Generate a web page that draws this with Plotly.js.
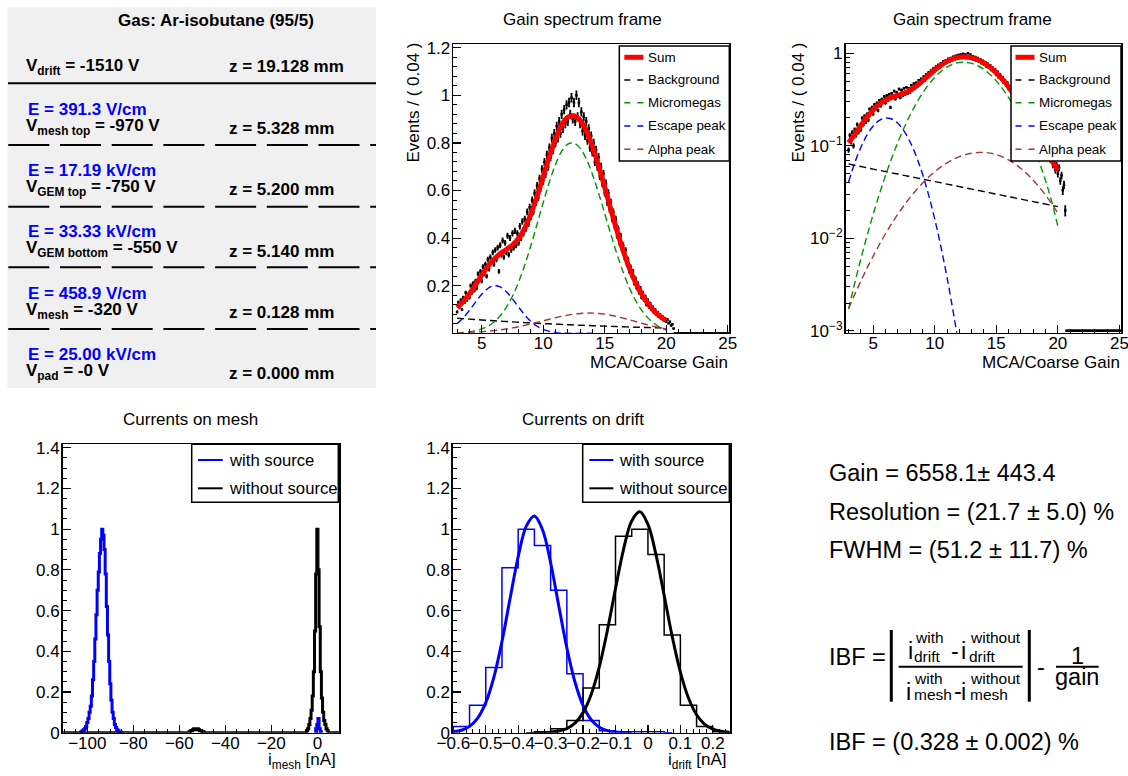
<!DOCTYPE html>
<html><head><meta charset="utf-8">
<script src="https://cdn.plot.ly/plotly-3.0.1.min.js"></script>
<style>html,body{margin:0;padding:0;background:#fff;} #chart{width:1128px;height:776px;}</style>
</head><body><div id="chart"></div>
<script>
// ---------------- DATA ----------------
// Gain spectrum (normalised events per bin), bins start at 3.0 with width 0.1
const specBinStart = 3.0, specBinWidth = 0.1;
const specY = [
0.09,0.13,0.11,0.14,0.10,0.15,0.13,0.17,0.14,0.16,
0.15,0.20,0.17,0.21,0.18,0.22,0.19,0.25,0.23,0.26,
0.22,0.28,0.25,0.29,0.24,0.31,0.27,0.32,0.30,0.34,
0.29,0.35,0.31,0.36,0.26,0.37,0.33,0.39,0.32,0.38,
0.34,0.41,0.33,0.40,0.35,0.42,0.36,0.43,0.37,0.42,
0.38,0.45,0.40,0.47,0.42,0.48,0.44,0.51,0.46,0.53,
0.49,0.56,0.51,0.59,0.55,0.62,0.57,0.65,0.61,0.69,
0.64,0.72,0.67,0.75,0.70,0.78,0.74,0.82,0.77,0.84,
0.80,0.87,0.82,0.89,0.84,0.92,0.86,0.94,0.88,0.96,
0.89,0.97,0.92,0.99,0.90,0.97,0.89,1.00,0.91,0.97,
0.88,0.93,0.85,0.91,0.83,0.89,0.81,0.86,0.78,0.83,
0.76,0.80,0.72,0.77,0.70,0.74,0.66,0.70,0.63,0.67,
0.59,0.63,0.55,0.59,0.52,0.55,0.48,0.51,0.45,0.48,
0.41,0.44,0.38,0.41,0.35,0.37,0.32,0.35,0.29,0.31,
0.26,0.28,0.24,0.26,0.21,0.23,0.19,0.21,0.17,0.19,
0.15,0.17,0.14,0.155,0.12,0.14,0.11,0.125,0.10,0.11,
0.088,0.10,0.078,0.088,0.07,0.078,0.062,0.07,0.055,0.062,
0.05,0.058,0.042,0.048,0.033,0.038,0.02,
0,0,0,0,0,0,0,0,0,0,0,0,0,0,0,0,0,0,0,0,0,0,0,0,0,
0,0,0,0,0,0,0,0,0,0,0,0,0,0,0,0,0,0,0,0
];
// Fit components, sampled every 0.5
const fitX = [3,3.5,4,4.5,5,5.5,6,6.5,7,7.5,8,8.5,9,9.5,10,10.5,11,11.5,12,12.5,13,13.5,14,14.5,15,15.5,16,16.5,17,17.5,18,18.5,19,19.5,20];
const sumY = [0.108,0.133,0.166,0.204,0.244,0.281,0.311,0.334,0.352,0.371,0.399,0.442,0.502,0.576,0.659,0.743,0.817,0.875,0.908,0.914,0.895,0.851,0.785,0.704,0.614,0.521,0.431,0.348,0.275,0.214,0.165,0.126,0.095,0.071,0.054];
const backgroundY = [0.0635,0.0616,0.0597,0.0578,0.0560,0.0543,0.0527,0.0510,0.0495,0.0479,0.0465,0.0450,0.0437,0.0423,0.0410,0.0398,0.0385,0.0374,0.0362,0.0351,0.0340,0.0330,0.0320,0.0310,0.0300,0.0291,0.0282,0.0274,0.0265,0.0257,0.0249,0.0242,0.0234,0.0227,0.0220];
const micromegasY = [0.00172,0.00328,0.00601,0.01064,0.0182,0.0300,0.0478,0.0734,0.1089,0.1558,0.2152,0.2870,0.3692,0.4585,0.5495,0.6356,0.7095,0.7645,0.7949,0.7988,0.7780,0.7331,0.6684,0.5897,0.5033,0.4156,0.3321,0.2567,0.1920,0.1390,0.0972,0.0659,0.0420,0.0250,0.0135];
const alphaY = [0.00174,0.00248,0.00346,0.00476,0.00643,0.00855,0.0112,0.0144,0.0182,0.0226,0.0277,0.0333,0.0394,0.0459,0.0525,0.0591,0.0655,0.0713,0.0763,0.0803,0.0832,0.0847,0.0849,0.0834,0.0803,0.0759,0.0703,0.0638,0.0568,0.0496,0.0424,0.0356,0.0293,0.0237,0.0187];
const escapeX = [3,3.5,4,4.5,5,5.5,6,6.5,7,7.5,8,8.5,9,9.5,10,10.5,11,11.5,12,12.5,13,13.5,14];
const escapeY = [0.0407,0.0653,0.0964,0.1309,0.1637,0.1884,0.1997,0.1948,0.1749,0.1446,0.1100,0.0771,0.0497,0.0295,0.0161,0.00811,0.00376,0.00160,0.000628,0.000227,0.0000755,0.000023,0.0000065];

// Currents on mesh (normalised), bin centres [nA]
const meshWithX = [-103,-102.5,-102,-101.5,-101,-100.5,-100,-99.5,-99,-98.5,-98,-97.5,-97,-96.5,-96,-95.5,-95,-94.5,-94,-93.5,-93,-92.5,-92,-91.5,-91,-90.5,-90,-89.5,-89,-88.5,-88,-87.5,-87,-86.5,-86,-85.5,-85,null,-1,-0.5,0,0.5,1,1.5,2];
const meshWithY = [0,0.005,0.01,0.015,0.02,0.03,0.05,0.07,0.10,0.13,0.18,0.26,0.35,0.46,0.58,0.70,0.79,0.88,0.95,1.00,0.97,0.90,0.78,0.62,0.48,0.35,0.24,0.16,0.10,0.07,0.04,0.025,0.015,0.01,0.005,0.003,0,null,0,0.02,0.04,0.07,0.02,0.005,0];
const meshWithoutX = [-110.5,-56,-55.5,-55,-54.5,-54,-53.5,-53,-52.5,-52,-51.5,-51,-50.5,-50,-49.5,-49,-5,-4.5,-4,-3.5,-3,-2.5,-2,-1.5,-1,-0.5,0,0.5,1,1.5,2,2.5,3,3.5,4,4.5,5,9.5];
const meshWithoutY = [0,0,0.005,0.01,0.01,0.015,0.02,0.015,0.02,0.02,0.015,0.01,0.01,0.005,0.005,0,0,0.01,0.02,0.04,0.07,0.11,0.18,0.30,0.50,0.78,1.00,0.80,0.52,0.30,0.17,0.10,0.06,0.04,0.02,0.01,0,0];

// Currents on drift (normalised), bin centres [nA]
const driftWithX = [-0.625,-0.575,-0.525,-0.475,-0.425,-0.375,-0.325,-0.275,-0.225,-0.175,-0.125,-0.075,-0.025,0.025,0.075];
const driftWithY = [0,0.03,0.135,0.32,0.81,1.00,0.92,0.70,0.29,0.06,0.01,0.005,0.005,0.005,0];
const driftWithoutX = [-0.375,-0.325,-0.275,-0.225,-0.175,-0.125,-0.075,-0.025,0.025,0.075,0.125,0.175,0.225,0.275];
const driftWithoutY = [0,0.005,0.02,0.06,0.22,0.53,0.965,1.00,0.875,0.48,0.135,0.03,0.005,0];
const driftWithFitX = [-0.6,-0.575,-0.55,-0.525,-0.5,-0.475,-0.45,-0.425,-0.4,-0.375,-0.35,-0.325,-0.3,-0.275,-0.25,-0.225,-0.2,-0.175,-0.15,-0.125,-0.1,-0.075,-0.05];
const driftWithFitY = [0.0042,0.0121,0.0311,0.0719,0.148,0.2725,0.448,0.659,0.865,1.015,1.065,0.997,0.835,0.624,0.417,0.249,0.133,0.0633,0.0270,0.0103,0.0035,0.0011,0.0003];
const driftWithoutFitX = [-0.35,-0.325,-0.3,-0.275,-0.25,-0.225,-0.2,-0.175,-0.15,-0.125,-0.1,-0.075,-0.05,-0.025,0,0.025,0.05,0.075,0.1,0.125,0.15,0.175,0.2,0.225,0.25];
const driftWithoutFitY = [0.00025,0.0009,0.0028,0.0079,0.0202,0.0469,0.0986,0.1876,0.323,0.5026,0.708,0.902,1.040,1.085,1.0235,0.8736,0.6747,0.4713,0.298,0.1705,0.0881,0.0413,0.0175,0.0067,0.0023];

// Tick labels for the log axis
const logTickVals = [0.001,0.01,0.1,1];
const logTickText = ['10<sup>−3</sup>','10<sup>−2</sup>','10<sup>−1</sup>','1'];

// Text panel
const gasLabel = 'Gas: Ar-isobutane (95/5)';
const voltageLabels = ['V<sub>drift</sub> = -1510 V','V<sub>mesh top</sub> = -970 V','V<sub>GEM top</sub> = -750 V','V<sub>GEM bottom</sub> = -550 V','V<sub>mesh</sub> = -320 V','V<sub>pad</sub> = -0 V'];
const zLabels = ['z = 19.128 mm','z = 5.328 mm','z = 5.200 mm','z = 5.140 mm','z = 0.128 mm','z = 0.000 mm'];
const fieldLabels = ['E = 391.3 V/cm','E = 17.19 kV/cm','E = 33.33 kV/cm','E = 458.9 V/cm','E = 25.00 kV/cm'];
const resultLabels = ['Gain = 6558.1± 443.4','Resolution = (21.7 ± 5.0) %','FWHM = (51.2 ± 11.7) %'];
const ibfResult = 'IBF = (0.328 ± 0.002) %';

// ---------------- DRAWING ----------------
const W = 1128, H = 776;
const FONT = '"Liberation Sans", Arial, Helvetica, sans-serif';
const fx = p => p / W;
const fy = p => 1 - p / H;

const specX = specY.map((_, i) => +(specBinStart + i * specBinWidth).toFixed(2));
const specErr = specY.map(v => 0.02 * Math.sqrt(v));
const LOG_FLOOR = 1e-3;
const specYlog = specY.map(v => v > 0 ? v : LOG_FLOOR);

const GREEN = 'rgb(0,150,0)', BROWN = 'rgb(160,55,55)', BLUE = 'rgb(0,0,255)';
const DASH = '7px,4px';

function dataTrace(xa, ya, yv) {
  return {type:'scatter', mode:'markers', x:specX, y:yv, xaxis:xa, yaxis:ya,
    marker:{size:2.5, color:'black', symbol:'square'},
    error_y:{type:'data', array:specErr, visible:true, color:'black', thickness:1.8, width:0},
    error_x:{type:'constant', value:0.05, visible:true, color:'black', thickness:1.4, width:0},
    hoverinfo:'skip'};
}
function curve(xa, ya, x, y, color, width, dash) {
  return {type:'scatter', mode:'lines', x:x, y:y, xaxis:xa, yaxis:ya,
    line:{color:color, width:width, dash:dash||'solid', shape:'spline', smoothing:1}, hoverinfo:'skip'};
}
function hist(xa, ya, x, y, color, width) {
  return {type:'scatter', mode:'lines', x:x, y:y, xaxis:xa, yaxis:ya, connectgaps:false,
    line:{color:color, width:width, shape:'hvh'}, hoverinfo:'skip'};
}

const traces = [];
[['x','y',specY],['x2','y2',specYlog]].forEach(([xa,ya,yv]) => {
  traces.push(dataTrace(xa, ya, yv));
  traces.push(curve(xa, ya, fitX, backgroundY, 'black', 1.4, DASH));
  traces.push(curve(xa, ya, fitX, micromegasY, GREEN, 1.4, DASH));
  traces.push(curve(xa, ya, escapeX, escapeY, BLUE, 1.4, DASH));
  traces.push(curve(xa, ya, fitX, alphaY, BROWN, 1.4, DASH));
  traces.push(curve(xa, ya, fitX, sumY, 'red', 5));
});
traces.push(hist('x3','y3', meshWithX, meshWithY, BLUE, 3));
traces.push(hist('x3','y3', meshWithoutX, meshWithoutY, 'black', 3));
traces.push(hist('x4','y4', driftWithX, driftWithY, BLUE, 1.5));
traces.push(hist('x4','y4', driftWithoutX, driftWithoutY, 'black', 1.5));
traces.push(curve('x4','y4', driftWithFitX, driftWithFitY, BLUE, 3));
traces.push(curve('x4','y4', driftWithoutFitX, driftWithoutFitY, 'black', 3));

function ax(o, isX) {
  const base = {showline:true, linecolor:'black', linewidth:1.6, mirror:true,
    ticks:'inside', ticklen:8, tickwidth:1.2, tickcolor:'black',
    showgrid:false, zeroline:false, tickangle:0, fixedrange:true,
    ticklabeloverflow:'allow', ticklabelstandoff: isX ? -6 : -2,
    tickfont:{family:FONT, size:17, color:'black'}};
  const m = o.minor; delete o.minor;
  const r = Object.assign(base, o);
  if (m) r.minor = Object.assign({ticks:'inside', ticklen:4, tickwidth:1, tickcolor:'black', showgrid:false}, m);
  return r;
}
const logMinor = [];
[0.001,0.01,0.1].forEach(d => { for (let k=2;k<=9;k++) logMinor.push(+(k*d).toPrecision(3)); });

// annotations
const ann = [];
function T(text, x, base, size, o) {
  o = o || {};
  ann.push({xref:'paper', yref:'paper', x:fx(x), y:fy(base - 0.35*size), text:text, showarrow:false,
    xanchor:o.xa||'left', yanchor:'middle', textangle:o.angle||0, borderpad:0,
    font:{family:FONT, size:size, color:o.color||'black'}});
}
function M(text, x, mid, size, o) { // positioned by middle
  o = o || {};
  ann.push({xref:'paper', yref:'paper', x:fx(x), y:fy(mid), text:text, showarrow:false,
    xanchor:o.xa||'left', yanchor:'middle', textangle:o.angle||0, borderpad:0,
    font:{family:FONT, size:size, color:o.color||'black'}});
}

// panel texts
T('<b>'+gasLabel+'</b>', 215.8, 26.7, 17, {xa:'center'});
const vBase = [72.7,132.7,194.3,255,316.7,378.3];
const zBase = [72.7,134.3,195,257.3,318.3,379.3];
const eBase = [115,176,237.3,299,360];
voltageLabels.forEach((t,i) => T('<b>'+t+'</b>', 25, vBase[i], 17));
zLabels.forEach((t,i) => T('<b>'+t+'</b>', 228.3, zBase[i], 17));
fieldLabels.forEach((t,i) => T('<b>'+t+'</b>', 26.7, eBase[i], 17, {color:BLUE}));

// titles
T('Gain spectrum frame', 582.5, 25, 17, {xa:'center'});
T('Gain spectrum frame', 972.7, 25, 17, {xa:'center'});
T('Currents on mesh', 190.7, 425, 17, {xa:'center'});
T('Currents on drift', 583, 425, 17, {xa:'center'});
// axis titles
M('Events / ( 0.04 )', 413, 102.5, 17, {xa:'center', angle:-90});
M('Events / ( 0.04 )', 798, 102.5, 17, {xa:'center', angle:-90});
T('MCA/Coarse Gain', 729.3, 368, 17, {xa:'right'});
T('MCA/Coarse Gain', 1120.5, 368, 17, {xa:'right'});
T('i<sub>mesh</sub> [nA]', 337, 766.7, 17, {xa:'right'});
T('i<sub>drift</sub> [nA]', 727.5, 766.7, 17, {xa:'right'});

// results
const RS = 23.5, SS = 15.5;
resultLabels.forEach((t,i) => T(t, 827.7, [481.7,520,558.3][i], RS));
T(ibfResult, 827.7, 750, RS);
T('IBF =', 827.7, 665, RS);
M('i', 910, 651.1, RS, {xa:'center'});
M('with', 914.3, 637.5, SS);
M('drift', 912.7, 656.9, SS);
M('-', 955, 651, RS, {xa:'center'});
M('i', 963.3, 651.1, RS, {xa:'center'});
M('without', 969.3, 637.5, SS);
M('drift', 967.7, 656.9, SS);
M('i', 908.5, 691.8, RS, {xa:'center'});
M('with', 912.7, 678, SS);
M('mesh', 912.7, 694.2, SS);
M('-', 957.7, 691, RS, {xa:'center'});
M('i', 963.3, 691.8, RS, {xa:'center'});
M('without', 969.3, 678, SS);
M('mesh', 969.3, 694.2, SS);
M('-', 1041.3, 667.3, RS, {xa:'center'});
M('1', 1077.3, 656.3, RS, {xa:'center'});
M('gain', 1077.3, 677.3, RS, {xa:'center'});

// shapes
const shapes = [];
function rect(x0,y0,x1,y1,fill,lw,layer) {
  shapes.push({type:'rect', xref:'paper', yref:'paper', x0:fx(x0), x1:fx(x1), y0:fy(y1), y1:fy(y0),
    fillcolor:fill, line:{color:'black', width:lw}, layer:layer||'above'});
}
function seg(x0,y0,x1,y1,color,w,dash) {
  shapes.push({type:'line', xref:'paper', yref:'paper', x0:fx(x0), x1:fx(x1), y0:fy(y0), y1:fy(y1),
    line:{color:color, width:w, dash:dash||'solid'}, layer:'above'});
}
shapes.push({type:'rect', xref:'paper', yref:'paper', x0:fx(7.5), x1:fx(376), y0:fy(388), y1:fy(7.5),
  fillcolor:'#f0f0f0', line:{width:0}, layer:'below'});
seg(8, 83.3, 376, 83.3, 'black', 2);
[145, 206.7, 267.3, 329].forEach(y => seg(8.3, y, 376, y, 'black', 2, '41px,10.7px'));

// legends (top)
const topLegend = [['Sum','red',5,'solid'],['Background','black',1.5,'6px,7px'],['Micromegas',GREEN,1.5,'6px,7px'],['Escape peak',BLUE,1.5,'6px,7px'],['Alpha peak',BROWN,1.5,'6px,7px']];
const rowsTop = [57.3,80,102.7,126,149.3];
[[619.3,729.3,624.3,643.3,646.7],[1011,1121,1015.5,1034.5,1037.5]].forEach(([b0,b1,l0,l1,tx]) => {
  rect(b0,46,b1,161,'white',1.5);
  topLegend.forEach((e,i) => { seg(l0,rowsTop[i],l1,rowsTop[i],e[1],e[2],e[3]); M(e[0], tx, rowsTop[i], 13.4); });
});
// legends (bottom)
[[191.7,338.3,198,222.7,228.3],[582.7,729.3,589.3,613.3,618.3]].forEach(([b0,b1,l0,l1,tx]) => {
  rect(b0,444.3,b1,502.3,'white',1.5);
  seg(l0,460,l1,460,BLUE,2); M('with source', tx, 460, 16.7);
  seg(l0,488.3,l1,488.3,'black',2); M('without source', tx, 488.3, 16.7);
});
// IBF formula bars
seg(891.3,630,891.3,701.7,'black',3);
seg(1029.3,630,1029.3,701.7,'black',3);
seg(898.7,666.7,1022.7,666.7,'black',2);
seg(1056,666.7,1098.7,666.7,'black',2);

const layout = {
  width:W, height:H, margin:{l:0,r:0,t:0,b:0}, paper_bgcolor:'white', plot_bgcolor:'rgba(0,0,0,0)',
  showlegend:false, font:{family:FONT, color:'black'},
  xaxis: ax({domain:[fx(453.3),fx(729.3)], range:[2.69,25.13], tick0:0, dtick:5, minor:{tick0:0,dtick:1}, anchor:'y'}, true),
  yaxis: ax({domain:[fy(332.7),fy(44.3)], range:[0.0025,1.2143], tick0:0, dtick:0.2, minor:{tick0:0,dtick:0.04}, anchor:'x'}),
  xaxis2: ax({domain:[fx(845.5),fx(1121)], range:[2.75,25.13], tick0:0, dtick:5, minor:{tick0:0,dtick:1}, anchor:'y2'}, true),
  yaxis2: ax({type:'log', domain:[fy(332.7),fy(44.3)], range:[-3.02,0.097], tickmode:'array', tickvals:logTickVals, ticktext:logTickText, minor:{tickmode:'array', tickvals:logMinor}, anchor:'x2'}),
  xaxis3: ax({domain:[fx(62.7),fx(339)], range:[-110.7,9.4], tick0:0, dtick:20, minor:{tick0:0,dtick:5}, anchor:'y3'}, true),
  yaxis3: ax({domain:[fy(732.7),fy(444.3)], range:[0,1.4167], tick0:0, dtick:0.2, minor:{tick0:0,dtick:0.05}, anchor:'x3'}),
  xaxis4: ax({domain:[fx(453),fx(730)], range:[-0.601,0.253], tick0:0, dtick:0.1, minor:{tick0:0,dtick:0.02}, anchor:'y4'}, true),
  yaxis4: ax({domain:[fy(732.7),fy(444.3)], range:[0,1.4167], tick0:0, dtick:0.2, minor:{tick0:0,dtick:0.05}, anchor:'x4'}),
  shapes: shapes,
  annotations: ann
};
Plotly.newPlot('chart', traces, layout, {staticPlot:true, displayModeBar:false});
</script></body></html>
